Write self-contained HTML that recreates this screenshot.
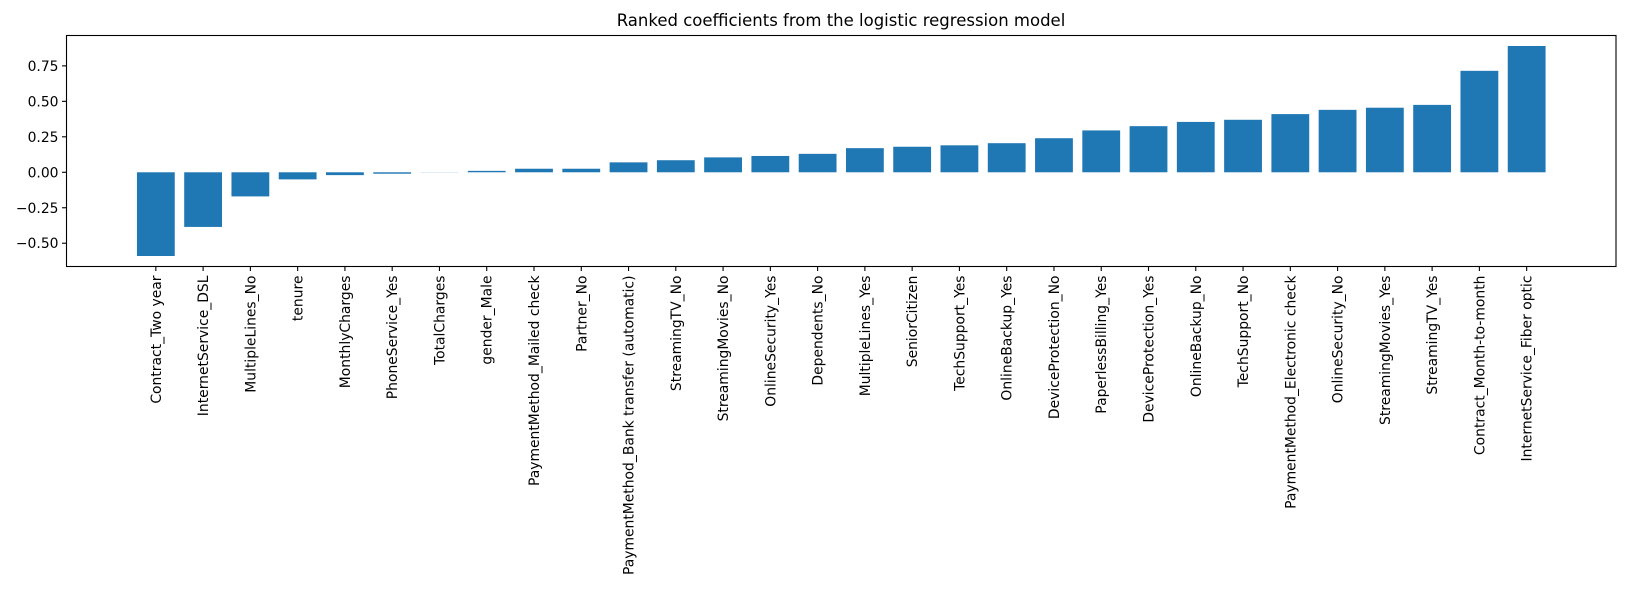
<!DOCTYPE html>
<html><head><meta charset="utf-8"><style>
html,body{margin:0;padding:0;background:#fff;}
svg{display:block;font-family:"DejaVu Sans","Liberation Sans",sans-serif;}
</style></head><body>
<svg id="chart" width="1637" height="595">
<text x="841" y="26" text-anchor="middle" font-size="16.5" fill="#000">Ranked coefficients from the logistic regression model</text>
<g id="bars"></g><g id="yaxis"></g><g id="xaxis"></g>
<rect x="66.5" y="35.5" width="1549.5" height="231" fill="none" stroke="#000" stroke-width="1.1"/>
</svg>
<script>
const categories=["Contract_Two year","InternetService_DSL","MultipleLines_No","tenure","MonthlyCharges","PhoneService_Yes","TotalCharges","gender_Male","PaymentMethod_Mailed check","Partner_No","PaymentMethod_Bank transfer (automatic)","StreamingTV_No","StreamingMovies_No","OnlineSecurity_Yes","Dependents_No","MultipleLines_Yes","SeniorCitizen","TechSupport_Yes","OnlineBackup_Yes","DeviceProtection_No","PaperlessBilling_Yes","DeviceProtection_Yes","OnlineBackup_No","TechSupport_No","PaymentMethod_Electronic check","OnlineSecurity_No","StreamingMovies_Yes","StreamingTV_Yes","Contract_Month-to-month","InternetService_Fiber optic"];
const values=[-0.59,-0.385,-0.17,-0.05,-0.02,-0.01,0.001,0.01,0.025,0.025,0.07,0.085,0.105,0.115,0.13,0.17,0.18,0.19,0.205,0.24,0.295,0.325,0.355,0.37,0.41,0.44,0.455,0.475,0.715,0.89];
const yTicks=[-0.5,-0.25,0,0.25,0.5,0.75];
const yTickLabels=["\u22120.50","\u22120.25","0.00","0.25","0.50","0.75"];
const NS="http://www.w3.org/2000/svg";
const x0=66.5,x1=1616,yTop=35.5,yBot=266.5;
const n=categories.length, pad=0.05*(n-1+0.8);
const xmin=-0.4-pad, xmax=n-1+0.4+pad;
const xs=i=>x0+(i-xmin)/(xmax-xmin)*(x1-x0);
const vmin=Math.min(0,...values), vmax=Math.max(0,...values), vr=vmax-vmin;
const ymin=vmin-0.05*vr, ymax=vmax+0.05*vr;
const ys=v=>yBot-(v-ymin)/(ymax-ymin)*(yBot-yTop);
const bw=0.8*(x1-x0)/(xmax-xmin);
function mk(t,a,p){const e=document.createElementNS(NS,t);for(const k in a)e.setAttribute(k,a[k]);p.appendChild(e);return e;}
const gb=document.getElementById('bars'),gx=document.getElementById('xaxis'),gy=document.getElementById('yaxis');
values.forEach((v,i)=>{
 const y=Math.min(ys(v),ys(0)),h=Math.abs(ys(v)-ys(0));
 const r=mk('rect',{x:xs(i)-bw/2,y:y,width:bw,height:Math.max(h,0.01),fill:'#1f77b4'},gb);
 
 
 const cx=xs(i);
 mk('line',{x1:cx,x2:cx,y1:yBot,y2:yBot+4.5,stroke:'#000','stroke-width':1.1},gx);
 const t=mk('text',{x:0,y:0,'font-size':13.9,'text-anchor':'end',transform:`translate(${cx+5},${yBot+9}) rotate(-90)`},gx);
 t.textContent=categories[i];
 
 
});
yTicks.forEach((v,i)=>{
 const y=ys(v);
 mk('line',{x1:x0-4.5,x2:x0,y1:y,y2:y,stroke:'#000','stroke-width':1.1},gy);
 const t=mk('text',{x:x0-8,y:y+5,'font-size':13.9,'text-anchor':'end'},gy);
 t.textContent=yTickLabels[i];
 
 
});
</script>
</body></html>
